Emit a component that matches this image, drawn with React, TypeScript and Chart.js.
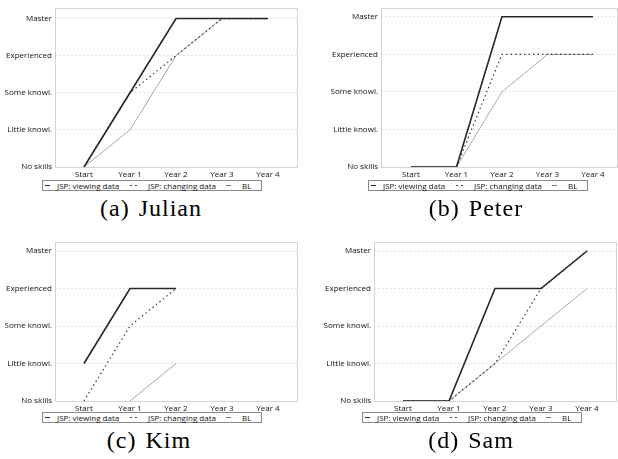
import React, { useEffect, useRef } from 'react';
import { Chart, registerables } from 'chart.js';

Chart.register(...registerables);

const categories = ['Start', 'Year 1', 'Year 2', 'Year 3', 'Year 4'];
const levels = ['No skills', 'Little knowl.', 'Some knowl.', 'Experienced', 'Master'];
const seriesNames = ['JSP: viewing data', 'JSP: changing data', 'BL'];

const julianViewing = [0, 2, 4, 4, 4];
const julianChanging = [0, 2, 3, 4, 4];
const julianBL = [0, 1, 3, 4, 4];

const peterViewing = [0, 0, 4, 4, 4];
const peterChanging = [0, 0, 3, 3, 3];
const peterBL = [0, 0, 2, 3, 3];

const kimViewing = [1, 3, 3, null, null];
const kimChanging = [0, 2, 3, null, null];
const kimBL = [null, 0, 1, null, null];

const samViewing = [0, 0, 3, 3, 4];
const samChanging = [0, 0, 1, 3, 4];
const samBL = [0, 0, 1, 2, 3];

const captions = ['(a) Julian', '(b) Peter', '(c) Kim', '(d) Sam'];

const FONT = '"Open Sans", "DejaVu Sans", sans-serif';

type Geo = {
  left: number; top: number; width: number; height: number;
  plotLeft: number; plotRight: number; plotTop: number; plotBottom: number;
  xMin: number; xMax: number; yMax: number;
};

const geos: Geo[] = [
  { left: 0, top: 0, width: 300, height: 185, plotLeft: 55, plotRight: 297, plotTop: 5, plotBottom: 167, xMin: -0.63, xMax: 4.63, yMax: 4.29 },
  { left: 310, top: 0, width: 308, height: 185, plotLeft: 381, plotRight: 617, plotTop: 7, plotBottom: 167, xMin: -0.66, xMax: 4.53, yMax: 4.24 },
  { left: 0, top: 230, width: 300, height: 184, plotLeft: 55, plotRight: 297, plotTop: 242, plotBottom: 401, xMin: -0.63, xMax: 4.63, yMax: 4.24 },
  { left: 310, top: 230, width: 308, height: 184, plotLeft: 374, plotRight: 616, plotTop: 242, plotBottom: 401, xMin: -0.63, xMax: 4.63, yMax: 4.24 },
];

const legendPos = [
  { left: 42, top: 180 },
  { left: 368, top: 180 },
  { left: 42, top: 412 },
  { left: 362, top: 412 },
];

const captionPos = [
  { cx: 151, top: 196 },
  { cx: 476, top: 196 },
  { cx: 149, top: 428 },
  { cx: 471, top: 428 },
];

const allSeries = [
  [julianViewing, julianChanging, julianBL],
  [peterViewing, peterChanging, peterBL],
  [kimViewing, kimChanging, kimBL],
  [samViewing, samChanging, samBL],
];

const styles = [
  { borderColor: '#262626', borderWidth: 1.6, borderDash: [] as number[] },
  { borderColor: '#3a3a3a', borderWidth: 1.2, borderDash: [1.5, 3] },
  { borderColor: '#a8a8a8', borderWidth: 1, borderDash: [] as number[] },
];

const framePlugin = {
  id: 'frame',
  beforeDatasetsDraw(chart: any) {
    const { ctx, chartArea: a } = chart;
    ctx.save();
    ctx.strokeStyle = '#d2d2d2';
    ctx.lineWidth = 1;
    const l = Math.round(a.left) + 0.5;
    const t = Math.round(a.top) + 0.5;
    ctx.strokeRect(l, t, Math.round(a.right) - Math.round(a.left), Math.round(a.bottom) - Math.round(a.top));
    ctx.restore();
  },
};

function Panel({ g, series }: { g: Geo; series: (number | null)[][] }) {
  const ref = useRef<HTMLCanvasElement>(null);
  useEffect(() => {
    const chart = new Chart(ref.current as HTMLCanvasElement, {
      type: 'line',
      data: {
        datasets: series.map((vals, si) => ({
          label: seriesNames[si],
          data: vals.map((v, i) => ({ x: i, y: v })),
          borderColor: styles[si].borderColor,
          borderWidth: styles[si].borderWidth,
          borderDash: styles[si].borderDash,
          pointRadius: 0,
          fill: false,
          tension: 0,
          spanGaps: false,
        })) as any,
      },
      options: {
        animation: false,
        responsive: false,
        maintainAspectRatio: false,
        layout: {
          padding: {
            top: g.plotTop - g.top,
            right: g.left + g.width - g.plotRight,
            bottom: 0,
            left: 0,
          },
        },
        plugins: { legend: { display: false }, tooltip: { enabled: false } },
        scales: {
          x: {
            type: 'linear',
            min: g.xMin,
            max: g.xMax,
            grid: { display: false, drawTicks: false },
            border: { display: false },
            afterBuildTicks: (s: any) => {
              s.ticks = categories.map((_, i) => ({ value: i }));
            },
            afterFit: (s: any) => {
              s.height = g.top + g.height - g.plotBottom;
            },
            ticks: {
              callback: (v: any) => categories[v] ?? '',
              font: { family: FONT, size: 8 },
              color: '#111',
              padding: 3,
              maxRotation: 0,
              autoSkip: false,
            },
          },
          y: {
            type: 'linear',
            min: 0,
            max: g.yMax,
            afterBuildTicks: (s: any) => {
              s.ticks = levels.map((_, i) => ({ value: i }));
            },
            afterFit: (s: any) => {
              s.width = g.plotLeft - g.left;
            },
            grid: { color: '#e2e2e2', drawTicks: false, lineWidth: 1 },
            border: { display: false, dash: [2, 2] },
            ticks: {
              callback: (v: any) => levels[v] ?? '',
              font: { family: FONT, size: 8 },
              color: '#111',
              padding: 3,
              autoSkip: false,
            },
          },
        } as any,
      },
      plugins: [framePlugin],
    });
    return () => chart.destroy();
  }, []);
  return (
    <canvas
      ref={ref}
      width={g.width}
      height={g.height}
      style={{ position: 'absolute', left: g.left, top: g.top, width: g.width, height: g.height }}
    />
  );
}

function Legend({ left, top }: { left: number; top: number }) {
  const txt: React.CSSProperties = { position: 'absolute', top: 0, lineHeight: '9px', whiteSpace: 'nowrap' };
  return (
    <div
      style={{
        position: 'absolute', left, top, width: 220, height: 11, boxSizing: 'border-box',
        border: '1px solid #8a8a8a', fontFamily: FONT, fontSize: 8, color: '#111', background: '#fff',
      }}
    >
      <span style={{ position: 'absolute', left: 2, top: 4, width: 5, borderTop: '1px solid #222' }} />
      <span style={{ ...txt, left: 14 }}>{seriesNames[0]}</span>
      <span style={{ position: 'absolute', left: 87, top: 4, width: 2, borderTop: '1px solid #444' }} />
      <span style={{ position: 'absolute', left: 92, top: 4, width: 2, borderTop: '1px solid #444' }} />
      <span style={{ ...txt, left: 105 }}>{seriesNames[1]}</span>
      <span style={{ position: 'absolute', left: 183, top: 4, width: 5, borderTop: '1px solid #777' }} />
      <span style={{ ...txt, left: 199 }}>{seriesNames[2]}</span>
    </div>
  );
}

export default function App() {
  return (
    <div
      style={{
        position: 'absolute', left: 0, top: 0, width: 618, height: 459, overflow: 'hidden', background: '#fff',
      }}
    >
      {geos.map((g, i) => (
        <Panel key={i} g={g} series={allSeries[i]} />
      ))}
      {legendPos.map((p, i) => (
        <Legend key={i} left={p.left} top={p.top} />
      ))}
      {captionPos.map((p, i) => (
        <div
          key={i}
          style={{
            position: 'absolute', left: p.cx - 100, top: p.top, width: 200, textAlign: 'center',
            fontFamily: '"Liberation Serif", "DejaVu Serif", serif', fontSize: 24, lineHeight: '24px',
            letterSpacing: 1, wordSpacing: 2, color: '#000', whiteSpace: 'nowrap',
          }}
        >
          {captions[i]}
        </div>
      ))}
    </div>
  );
}
